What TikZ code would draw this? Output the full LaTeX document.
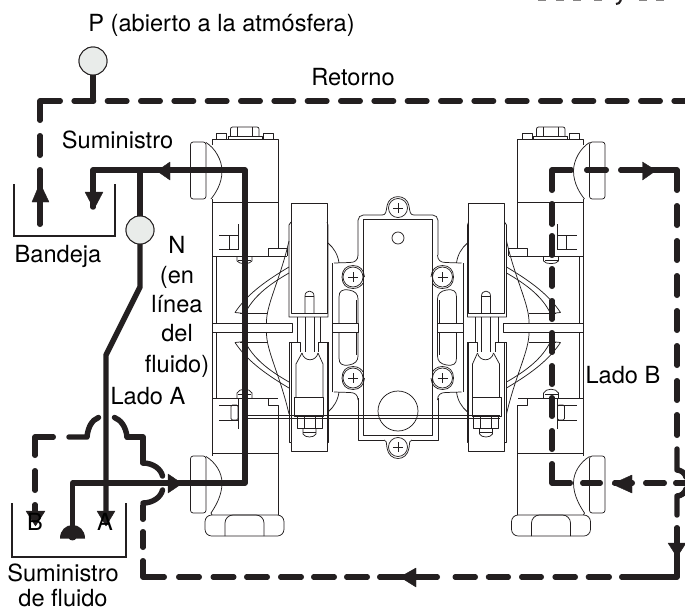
\documentclass[tikz,border=0pt]{standalone}
\usepackage{fontspec}
\setmainfont{TeX Gyre Heros}
\definecolor{ink}{HTML}{231F20}
\definecolor{gaugefill}{HTML}{E9ECEA}
\tikzset{
  thin line/.style={draw=ink,line width=0.55pt,line join=round},
  pipe/.style={draw=ink,line width=4.1pt,line cap=round,line join=round},
  dsh/.style={pipe,shorten <=2.05pt,shorten >=2.05pt},
  tip/.style={fill=ink,draw=ink,line width=0.3pt,line join=round},
  tray/.style={draw=ink,line width=1.1pt,line join=miter},
  gauge/.style={circle,draw=ink,line width=0.7pt,fill=gaugefill,minimum size=21pt,inner sep=0pt},
  lbl/.style={anchor=base,inner sep=0pt,text=black,font=\fontsize{17.7}{20}\selectfont},
}
% one quarter of the side screws and of the diaphragm: drawn twice, mirrored top to bottom
\newcommand{\quarterpump}{%
  % diaphragm blades
  \draw[thin line] (235,312.5) .. controls (246,296) and (262,283) .. (289,267);
  \draw[thin line] (235,312.5) -- (245,313.5) .. controls (253,297) and (268,285) .. (289,273);
  \draw[thin line] (266.5,323) .. controls (266,305) and (280,280) .. (289,241);
  \draw[thin line] (240,313) -- (267,313);
  % side screw and its outlines
  \draw[thin line] (358,255) .. controls (358,260) and (355,262.5) .. (350,262.5) -- (334,263);
  \draw[thin line] (353,277) circle (10);
  \draw[thin line] (342,277) .. controls (342,270) and (346,265.5) .. (353,265.5) .. controls (360,265.5) and (364,270) .. (364.5,277);
  \draw[thin line] (342,277) .. controls (342,284) and (346,288.5) .. (353,288.5) .. controls (359,288.5) and (362,285) .. (363,283);
  \draw[thin line] (358,323) -- (358,299) .. controls (358,294) and (355,291) .. (349,290) .. controls (342,289) and (339,291) .. (339,297) -- (339,323);
  \draw[thin line] (356,323) -- (356,300);
  \draw[thin line] (328,243) .. controls (334,248) and (338,255) .. (339,263);
  \draw[thin line] (332,263) -- (332,323);
}
% one half of the pump: drawn twice, mirrored left to right
\newcommand{\halfpump}{%
  % upper ball check
  \draw[thin line,rounded corners=2pt] (190.5,142) rectangle (206,199);
  \draw[thin line] (206,142.5) .. controls (215,148) and (222,160) .. (222,171) .. controls (222,184) and (215,194) .. (211,199);
  \draw[thin line] (212,145) -- (212,139) -- (278,139) -- (278,248);
  \draw[thin line] (212,199) -- (212,456);
  \draw[thin line] (212,202) -- (278,202);
  \draw[thin line,rounded corners=1.5pt] (230.5,136) -- (230.5,127) -- (259,127) -- (259,136);
  \draw[thin line] (237,127) -- (237,136) (252,127) -- (252,136);
  \draw[thin line] (228,139) -- (228,136) -- (262,136) -- (262,139);
  \draw[thin line] (216,139) rectangle (226,133);
  \draw[thin line] (263,139) rectangle (273,133);
  % upper bracket
  \draw[thin line] (238,224) -- (238,250);
  \draw[thin line] (219,235) -- (238,235) (219,249) -- (238,249);
  \draw[thin line] (229,235) -- (229,249);
  \draw[thin line] (212,256) -- (287,256);
  \draw[thin line] (268,256) -- (268,248) -- (287,248) -- (287,256);
  \draw[thin line] (237,256) -- (237,261) .. controls (239,264.5) and (250,264.5) .. (252,261) -- (252,256);
  \draw[thin line] (238,260) -- (251,260);
  % inner wall and band
  \draw[thin line] (216,256) -- (216,323) (216,332) -- (216,398);
  \draw[thin line] (212,323) -- (292,323) -- (292,332) -- (212,332);
  \draw[thin line] (332,323) rectangle (358,332);
  % lower bracket
  \draw[thin line] (212,398) -- (278,398);
  \draw[thin line] (268,398) -- (268,405) -- (278,405) -- (278,515);
  \draw[thin line] (238,398) -- (238,429);
  \draw[thin line] (219,405) -- (238,405) (219,420) -- (238,420);
  \draw[thin line,rounded corners=1pt] (231,405) rectangle (238,420);
  \draw[thin line] (237,398) -- (237,393) .. controls (239,388) and (250,388) .. (252,393) -- (252,398);
  \draw[thin line] (238,394) -- (251,394);
  % lower ball check and foot
  \draw[thin line] (212,453) -- (278,453);
  \draw[thin line,rounded corners=2pt] (190.5,456) rectangle (206,513);
  \draw[thin line] (206,456.5) .. controls (215,462) and (222,472) .. (222,483) .. controls (222,496) and (215,507) .. (211,513) -- (212,515);
  \draw[thin line,rounded corners=5pt] (205,536) -- (205,515) -- (284,515) -- (284,536) -- cycle;
  \draw[thin line,rounded corners=6pt] (225,536) -- (225,515) -- (264,515) -- (264,536);
  % air chamber, upper
  \draw[thin line] (291,313) -- (291,203) -- (327,203) -- (327,313) -- cycle;
  \draw[thin line] (291,222) -- (289,225) -- (289,317) -- (328,317) -- (328,225) -- (327,222);
  % centre stem
  \draw[thin line] (305,313) -- (305,296) .. controls (305,289.5) and (314,289.5) .. (314,296) -- (314,313);
  \draw[thin line] (305,296) -- (314,296);
  \draw[thin line] (305,317) -- (305,352) (314,317) -- (314,352);
  \draw[thin line] (297,317) -- (297,342) (320,317) -- (320,342);
  % air chamber, lower
  \draw[thin line] (289,342) -- (300,342) -- (300,352);
  \draw[thin line] (328,342) -- (318,342) -- (318,352);
  \draw[thin line] (289,342) -- (289,442) -- (291,442) -- (291,451) -- (327,451) -- (327,442) -- (328,442) -- (328,342);
  \draw[thin line] (291,342) -- (291,442) (327,342) -- (327,442);
  \draw[thin line] (302,353) .. controls (304,362) and (316,362) .. (318,353);
  \draw[thin line] (302,353) -- (296,364) -- (296,397);
  \draw[thin line] (318,353) -- (323,364) -- (323,397);
  \draw[thin line] (294,397) rectangle (323,416);
  \draw[thin line] (297,416) rectangle (322,428);
  \draw[thin line] (303,428) -- (303,434) .. controls (305,438) and (314,438) .. (316,434) -- (316,428);
  \draw[thin line] (303,432) -- (316,432);
  \draw[thin line] (304,416) -- (304,428) (315,416) -- (315,428);
  % side screws and diaphragm, top and bottom
  \quarterpump
  \begin{scope}[shift={(0,655)},yscale=-1]
    \quarterpump
  \end{scope}
}
\begin{document}
\begin{tikzpicture}[x=0.75pt,y=-0.75pt]
  \clip (0,0) rectangle (685,611);
  \fill[white] (0,0) rectangle (685,611);

  % ---- pump ----
  \halfpump
  \begin{scope}[shift={(795.5,0)},xscale=-1]
    \halfpump
  \end{scope}
  % centre plate
  \draw[thin line,rounded corners=4pt] (358,255) -- (358,215) -- (382,215);
  \draw[thin line] (382,215) .. controls (386,215) and (386,212) .. (387,206) .. controls (389,193.5) and (407,193.5) .. (409,206) .. controls (410,212) and (410,215) .. (414,215);
  \draw[thin line,rounded corners=4pt] (414,215) -- (438,215) -- (438,255);
  \draw[thin line] (363,219) rectangle (432,435);
  \draw[thin line] (358,398) -- (358,440) -- (384,440);
  \draw[thin line] (438,398) -- (438,440) -- (412,440);
  \draw[thin line] (384,440) .. controls (387,440) and (386,442) .. (387,448) .. controls (389,462) and (407,462) .. (409,448) .. controls (410,442) and (409,440) .. (412,440);
  \foreach \cy in {208,447}{
    \draw[thin line] (398,\cy) circle (9.5);
    \draw[thin line] (393,\cy) -- (403,\cy) (398,\cy-5) -- (398,\cy+5);
  }
  \foreach \cx/\cy in {353/277,442.5/277,353/378,442.5/378}{
    \draw[thin line] (\cx-5,\cy) -- (\cx+5,\cy) (\cx,\cy-5) -- (\cx,\cy+5);
  }
  \draw[thin line] (398,238) circle (6);
  \draw[thin line] (398,411) circle (20);
  \draw[thin line] (247,415) -- (500,415) (247,418.5) -- (500,418.5);

  % ---- named pipe points ----
  \coordinate (retL) at (40,101);
  \coordinate (supL) at (93,170);
  \coordinate (supT) at (140,170);
  \coordinate (supR) at (245,170);
  \coordinate (inR) at (245,483);
  \coordinate (inL) at (72.6,483);
  \coordinate (bell) at (72.6,526);
  \coordinate (kinkU) at (140,287);
  \coordinate (kinkL) at (106,355);
  \coordinate (lineA) at (106,514);

  \node[gauge] (P) at (93,61) {};
  \node[gauge] (N) at (140,230) {};

  % ---- solid pipes, left side ----
  \draw[pipe] (supL |- 0,207) -- (supL) -- (supR) -- (inR) -- (inL) -- (bell);
  \draw[pipe] (supT) -- (N);
  \draw[pipe] (N) -- (kinkU) -- (kinkL) -- (lineA);
  \draw[pipe,line cap=butt] (P) -- (93,101);

  % bell of the intake
  \fill[ink] (60,538.5) .. controls (60,530) and (66,525) .. (72.6,525) .. controls (79,525) and (85,530) .. (85,538.5) -- (76,538.5) .. controls (75,541) and (70,541) .. (69,538.5) -- cycle;

  % ---- return line, left and top ----
  \draw[dsh] (40,227) -- (40,167);
  \draw[dsh] (40,158) -- (40,133);
  \draw[dsh] (40,123) -- (retL) -- (63,101);
  \draw[pipe,dash pattern=on 14.6pt off 10.4pt] (74.1,101) -- (695,101);

  % ---- dashed line, lower left with its jumps ----
  \draw[dsh] (143,558) -- (143,577) -- (167,577);
  \draw[dsh] (143,550) -- (143,529);
  \draw[dsh] (143,522) -- (143,503);
  \draw[pipe] (162.5,490) .. controls (161,497) and (153,503) .. (143,503);
  \draw[pipe] (143,463) .. controls (153,463) and (161,469) .. (162.5,476);
  \draw[pipe] (143,463) -- (143,437) -- (127,437);
  \draw[pipe] (127,437) .. controls (126,427) and (121,420) .. (114.5,417.5);
  \draw[pipe] (98.5,417.5) .. controls (92,420) and (88,427) .. (87,437) -- (69,437);
  \draw[dsh] (56,437) -- (35,437) -- (35,458);
  \draw[dsh] (35,468) -- (35,493);
  \draw[dsh] (35,502) -- (35,516);

  % ---- bottom return ----
  \foreach \a/\b in {176/202,210.5/236.5,244/270,278/304,311/337,344/370,377/440,452.5/478,485.8/511,519/544,552.4/578,585.7/612}{
    \draw[dsh] (\a,577) -- (\b,577);
  }
  \draw[dsh] (619,577) -- (677,577) -- (677,525);

  % ---- right side ----
  \draw[dsh] (552,193) -- (552,170) -- (574,170);
  \draw[dsh] (584,170) -- (609,170);
  \draw[dsh] (618,170) -- (677,170) -- (677,193);
  \foreach \a/\b in {201/227,233/258,266/289,298/322,330/355,363/387,395/419,428/452}{
    \draw[dsh] (552,\a) -- (552,\b);
  }
  \draw[dsh] (552,461) -- (552,483) -- (573,483);
  \foreach \a/\b in {580/603,612/635,643/667,673/690}{
    \draw[dsh] (\a,483) -- (\b,483);
  }
  \foreach \a/\b in {203/228,238/263,273/298,308/333,343/368,378/403,412/438}{
    \draw[dsh] (677,\a) -- (677,\b);
  }
  \draw[pipe] (677,449) -- (677,470) .. controls (681,470) and (685,473) .. (686,477);
  \draw[pipe] (686,489) .. controls (685,493) and (681,496) .. (677,496) -- (677,515);

  % ---- arrowheads ----
  \path[tip] (40,183) -- (49,202) -- (32,202) -- cycle;
  \path[tip] (85,192) -- (103,192) -- (94,209) -- cycle;
  \path[tip] (157,171) -- (170,162) -- (170,180) -- cycle;
  \path[tip] (182,483.5) -- (168,474) -- (168,493) -- cycle;
  \path[tip] (97,511) -- (115,511) -- (106,526) -- cycle;
  \path[tip] (26,511) -- (45,511) -- (35.5,526) -- cycle;
  \path[tip] (656,170.5) -- (642.5,162) -- (642.5,180) -- cycle;
  \path[tip] (612,484) -- (632,475) -- (632,493) -- cycle;
  \path[tip] (668,543) -- (686,543) -- (677,557) -- cycle;
  \path[tip] (400,577) -- (416,568) -- (416,587) -- cycle;

  % ---- trays ----
  \draw[tray] (14,184) -- (14,236) -- (115,236) -- (115,184);
  \draw[tray] (12,503) -- (12,557) -- (126,557) -- (126,503);

  % ---- gauges on top of their pipes ----
  \node[gauge] at (P) {};
  \node[gauge] at (N) {};

  % ---- labels ----
  \node[lbl] (tP) at (221.5,31) {P (abierto a la atmósfera)};
  \node[lbl] (tRet) at (353,85) {Retorno};
  \node[lbl] (tSum) at (117.5,148) {Suministro};
  \node[lbl] (tBan) at (58,262) {Bandeja};
  \node[lbl] (tN) at (177,253) {N};
  \node[lbl] (tN2) at (177,283) {(en};
  \node[lbl] (tN3) at (177,312) {línea};
  \node[lbl] (tN4) at (177,341) {del};
  \node[lbl] (tN5) at (177,372) {fluido)};
  \node[lbl] (tLA) at (148,404) {Lado A};
  \node[lbl] (tLB) at (623,383) {Lado B};
  \node[lbl] (tB) at (35,530) {B};
  \node[lbl] (tA) at (105,530) {A};
  \node[lbl] (tSF) at (63,581) {Suministro};
  \node[lbl] (tSF2) at (63,606.5) {de fluido};

  % ---- bottom edge of the cropped line at the top right ----
  \foreach \mx in {542,560,577,598,643,660}{
    \fill[ink!55] (\mx-4,0) rectangle (\mx+4,1.2);
  }
  \draw[ink,line width=1.6pt] (621,0) .. controls (620,3) and (618,4) .. (616,4);
\end{tikzpicture}
\end{document}
